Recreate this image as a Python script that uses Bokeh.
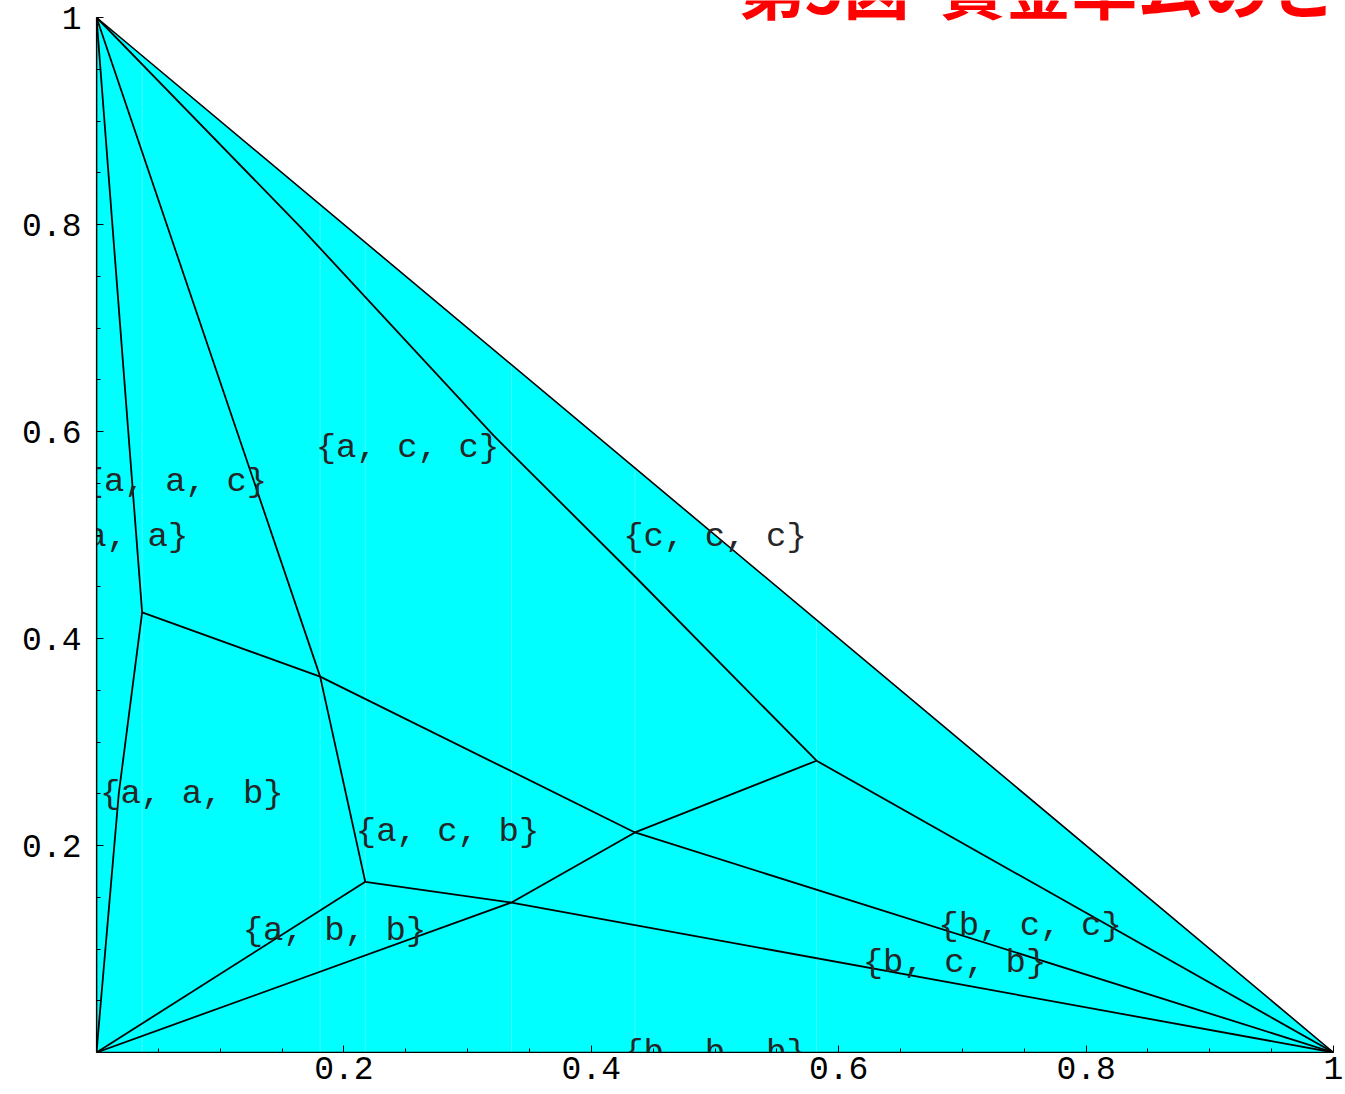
from bokeh.plotting import figure
from bokeh.models import FixedTicker, Label
from bokeh.core.properties import value
from bokeh.embed import file_html
from bokeh.resources import INLINE

# ---------------- data ----------------
title_text = "第5図\u00a0\u00a0賃金率ムのと"

# outer simplex
tri_x = [0.0, 1.0, 0.0]
tri_y = [0.0, 0.0, 1.0]

# boundary curves between regions
c1_x = [0.0, 0.0369, 0.0180, 0.0]
c1_y = [1.0, 0.4253, 0.2500, 0.0]

c2_x = [0.0369, 0.1808, 0.4353, 1.0]
c2_y = [0.4253, 0.3632, 0.2126, 0.0]

c3_x = [0.0, 0.1808, 0.2173, 0.3355, 1.0]
c3_y = [1.0, 0.3632, 0.1649, 0.1449, 0.0]

c4_x = [0.0, 0.2173]
c4_y = [0.0, 0.1649]

c5_x = [0.0, 0.3355, 0.4353, 0.5821]
c5_y = [0.0, 0.1449, 0.2126, 0.2819]

c6_x = [0.0, 0.1649, 0.3209, 0.4363, 0.5821, 1.0]
c6_y = [1.0, 0.7975, 0.5962, 0.4587, 0.2819, 0.0]

# faint fill seams at the vertex abscissas
seam_x = [0.0369, 0.1808, 0.2173, 0.3355, 0.4353, 0.5821]

# region labels
region_labels = ["{a, a, a}", "{a, a, b}", "{a, a, c}", "{a, b, b}", "{a, c, b}",
                 "{a, c, c}", "{b, b, b}", "{b, c, b}", "{b, c, c}", "{c, c, c}"]
label_x = [0.0, 0.0771, 0.0638, 0.1924, 0.2838, 0.2514, 0.5, 0.6936, 0.7547, 0.5]
label_y = [0.4976, 0.250, 0.551, 0.1175, 0.2126, 0.584, 0.0, 0.0869, 0.1223, 0.4976]

# axis ticks
major_ticks = [0.2, 0.4, 0.6, 0.8, 1.0]
tick_labels = ["0.2", "0.4", "0.6", "0.8", "1"]
minor_ticks = [0.05, 0.1, 0.15, 0.25, 0.3, 0.35, 0.45, 0.5, 0.55,
               0.65, 0.7, 0.75, 0.85, 0.9, 0.95]

# ---------------- figure ----------------
# frame reaches the top of the page (title is clipped there); y=1 sits 17px below it
p = figure(width=1345, height=1094, x_range=(0, 1), y_range=(0, 1052 / 1035),
           output_backend="svg", toolbar_location=None,
           min_border_left=96, min_border_right=12, min_border_top=0,
           min_border_bottom=42)
p.xgrid.visible = False
p.ygrid.visible = False
p.outline_line_color = None
p.background_fill_color = "white"
p.border_fill_color = "white"

for ax in (p.xaxis[0], p.yaxis[0]):
    ax.ticker = FixedTicker(ticks=major_ticks, minor_ticks=minor_ticks)
    ax.major_label_overrides = dict(zip(major_ticks, tick_labels))
    ax.bounds = (0, 1)
    ax.major_tick_in = 7
    ax.major_tick_out = 0
    ax.minor_tick_in = 4
    ax.minor_tick_out = 0
    ax.axis_line_color = "black"
    ax.axis_line_width = 1.2
    ax.major_tick_line_color = "black"
    ax.minor_tick_line_color = "black"
    ax.major_label_text_font = "Liberation Mono"
    ax.major_label_text_font_size = "33px"
    ax.major_label_text_color = "black"
p.xaxis[0].major_label_standoff = 4
p.yaxis[0].major_label_standoff = 15

# fill
p.patch(tri_x, tri_y, fill_color="#00FFFF", line_color=None)
p.segment(x0=seam_x, y0=[0.0] * len(seam_x), x1=seam_x,
          y1=[1.0 - v for v in seam_x], line_color="white",
          line_alpha=0.25, line_width=1)
# outline
p.line(tri_x + tri_x[:1], tri_y + tri_y[:1], line_color="black", line_width=1.6)

for cx, cy in ((c1_x, c1_y), (c2_x, c2_y), (c3_x, c3_y),
               (c4_x, c4_y), (c5_x, c5_y), (c6_x, c6_y)):
    p.line(cx, cy, line_color="black", line_width=1.8)

p.text(x=label_x, y=label_y, text=region_labels,
       text_font=value("Liberation Mono"), text_font_size="34px",
       text_align="center", text_baseline="middle", text_color="#262626")

title = Label(x=642, y=1068, x_units="screen", y_units="screen",
              text=title_text, text_font="Noto Sans CJK JP",
              text_font_style="bold", text_font_size="66px",
              text_color="#FF0000", text_align="left",
              text_baseline="alphabetic")
p.add_layout(title)

open("out.html", "w").write(file_html(p, INLINE))
